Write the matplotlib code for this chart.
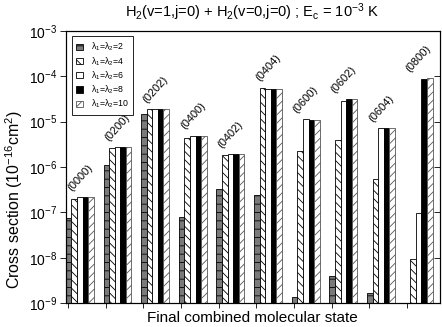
import numpy as np
import matplotlib
matplotlib.use("Agg")
import matplotlib.pyplot as plt

plt.rcParams['font.family'] = ['Liberation Sans', 'DejaVu Sans']
plt.rcParams['mathtext.fontset'] = 'custom'
plt.rcParams['mathtext.rm'] = 'Liberation Sans'
plt.rcParams['mathtext.it'] = 'Liberation Sans'
plt.rcParams['hatch.linewidth'] = 0.6

# final combined molecular states
states = ["(0000)", "(0200)", "(0202)", "(0400)", "(0402)",
          "(0404)", "(0600)", "(0602)", "(0604)", "(0800)"]

# cross sections (1e-16 cm^2) for each lambda1=lambda2 basis
lam2 = [7.4e-8, 1.13e-6, 1.47e-5, 8.1e-8, 3.2e-7, 2.46e-7, 1.3e-9, 3.9e-9, 1.6e-9, 1e-10]
lam4 = [2.0e-7, 2.6e-6, 1.9e-5, 4.4e-6, 1.86e-6, 5.6e-5, 2.3e-6, 4.0e-6, 5.5e-7, 9.5e-9]
lam6 = [2.15e-7, 2.7e-6, 1.9e-5, 4.9e-6, 1.94e-6, 5.3e-5, 1.15e-5, 2.9e-5, 7.3e-6, 9.6e-8]
lam8 = [2.15e-7, 2.7e-6, 1.9e-5, 4.9e-6, 1.94e-6, 5.3e-5, 1.06e-5, 3.07e-5, 7.3e-6, 8.8e-5]
lam10 = [2.15e-7, 2.7e-6, 1.9e-5, 4.9e-6, 1.94e-6, 5.3e-5, 1.06e-5, 3.07e-5, 7.3e-6, 9.2e-5]

series = [lam2, lam4, lam6, lam8, lam10]
labels = [r"$\lambda_1$=$\lambda_2$=%d" % n for n in (2, 4, 6, 8, 10)]
styles = [
    dict(facecolor="#7a7a7a", hatch="--", edgecolor="black"),
    dict(facecolor="white", hatch="\\\\\\\\", edgecolor="black"),
    dict(facecolor="white", hatch="", edgecolor="black"),
    dict(facecolor="black", hatch="", edgecolor="black"),
    dict(facecolor="white", hatch="////", edgecolor="#555555"),
]

fig = plt.figure(figsize=(4.42, 3.27), dpi=100)
ax = fig.add_axes([0.149, 0.0725, 0.846, 0.8335])

x = np.arange(len(states))
w = 0.148
start = -0.055
for k, vals in enumerate(series):
    ax.bar(x + start + k * w, vals, width=w, align='edge', bottom=1e-10,
           linewidth=0.6, label=labels[k], **styles[k])

ax.set_yscale('log')
ax.set_ylim(1e-9, 1e-3)
ax.set_xlim(-0.055, 9.875)

# state labels above each group
for i, s in enumerate(states):
    top = max(v[i] for v in series)
    ax.annotate(s, (x[i] + start + 2.5 * w, top), xytext=(0, 14),
                textcoords='offset points', rotation=48,
                ha='center', va='center', fontsize=8, zorder=5)

ax.set_xticks(x)
ax.set_xticklabels([])
ax.set_yticks([10.0 ** p for p in range(-9, -2)])
ax.set_yticklabels([r"10$^{%d}$" % p for p in range(-9, -2)], fontsize=10)
ax.minorticks_off()
ax.tick_params(axis='y', which='major', length=4, direction='out', width=0.6, pad=2)
ax.tick_params(axis='x', which='major', length=3.5, direction='out', width=0.6, pad=1)

# inward ticks on the right side
ax2 = ax.twinx()
ax2.set_yscale('log')
ax2.set_ylim(ax.get_ylim())
ax2.set_yticks([10.0 ** p for p in range(-8, -3)])
ax2.set_yticklabels([])
ax2.minorticks_off()
ax2.tick_params(axis='y', direction='in', length=4, width=0.6)

for a in (ax, ax2):
    for sp in a.spines.values():
        sp.set_linewidth(0.8)

ax.set_ylabel(r"Cross section (10$^{-16}$cm$^{2}$)", fontsize=11.5)
ax.yaxis.set_label_coords(-0.11, 0.38)
ax.set_xlabel("Final combined molecular state", fontsize=11)
ax.xaxis.set_label_coords(0.5, -0.028)
fig.text(0.57, 0.962, r"H$_2$(v=1,j=0) + H$_2$(v=0,j=0) ; E$_c$ = 10$^{-3}$ K",
         ha='center', va='center', fontsize=10.5)

leg = ax.legend(loc='upper left', bbox_to_anchor=(0.005, 0.995), fontsize=6.3,
                handlelength=0.7, handleheight=0.7, handletextpad=1.0,
                labelspacing=0.2, borderpad=0.5, fancybox=False,
                edgecolor='black', framealpha=1)
leg.get_frame().set_linewidth(0.6)

fig.savefig("out.png", dpi=100)
